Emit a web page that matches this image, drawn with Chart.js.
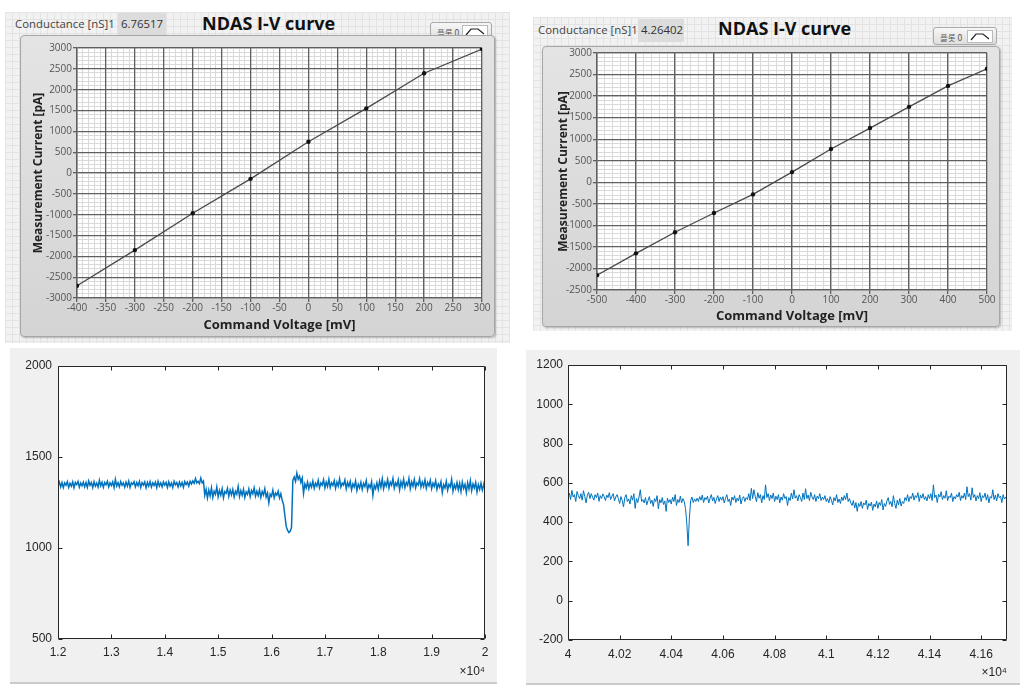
<!DOCTYPE html>
<html>
<head>
<meta charset="utf-8">
<script src="https://cdn.jsdelivr.net/npm/chart.js@4.4.1/dist/chart.umd.min.js"></script>
<style>
  body { margin: 0; width: 1033px; height: 688px; background: #fff; position: relative; overflow: hidden; font-family: "Open Sans", sans-serif; }
  .lv { position: absolute; background-color: #f2f2f2;
        background-image: linear-gradient(#e3e3e3 1px, transparent 1px), linear-gradient(90deg, #e3e3e3 1px, transparent 1px);
        background-size: 7px 7px; }
  .lv-inner { position: absolute; box-sizing: border-box; border: 1px solid #a6a6a6; border-radius: 4px;
              background: linear-gradient(#e4e4e4, #d4d4d4); box-shadow: 1px 1px 2px rgba(0,0,0,.25); }
  .lv-label { position: absolute; font-size: 11.4px; color: #444; white-space: nowrap; }
  .lv-value { position: absolute; box-sizing: border-box; font-size: 11.4px; color: #333; background: #dcdcdc; padding: 3px 3px; white-space: nowrap; }
  .lv-title { position: absolute; font-size: 18px; font-weight: bold; color: #111; white-space: nowrap; }
  .lv-legend { position: absolute; box-sizing: border-box; border: 1px solid #a9a9a9; border-radius: 3px;
               background: linear-gradient(#f7f7f7, #dedede); font-size: 8.5px; color: #555; }
  .lv-legend span { position: absolute; left: 6px; top: 3px; font-family: "Noto Sans CJK KR", sans-serif; }
  .lv-legend svg { position: absolute; right: 3px; top: 2px; background: #fff; border: 1px solid #bbb; }
  .ml { position: absolute; background: #f0f0f0; border-bottom: 2px solid #cbcbcb; }
  canvas { position: absolute; }
</style>
</head>
<body>

<!-- LabVIEW I-V panels -->
<div class="lv" style="left:5px; top:12px; width:505px; height:331px;"></div>
<div class="lv-label" style="left:15px; top:16px;">Conductance [nS]1</div>
<div class="lv-value" style="left:118px; top:13px; width:48px; height:22px;">6.76517</div>
<div class="lv-title" style="left:202px; top:11px;">NDAS I-V curve</div>
<div class="lv-legend" style="left:430px; top:22px; width:62px; height:18px;"><span>플롯 0</span>
  <svg width="24" height="11"><polyline points="3,9 8,3 15,3 21,8" fill="none" stroke="#222" stroke-width="1.2"/></svg></div>
<div class="lv-inner" style="left:20px; top:35px; width:475px; height:302px;"></div>
<canvas id="ivA" width="475" height="302" style="left:20px; top:35px;"></canvas>

<div class="lv" style="left:533px; top:17px; width:479px; height:314px;"></div>
<div class="lv-label" style="left:538px; top:22px;">Conductance [nS]1</div>
<div class="lv-value" style="left:638px; top:19px; width:46px; height:23px;">4.26402</div>
<div class="lv-title" style="left:718px; top:16px;">NDAS I-V curve</div>
<div class="lv-legend" style="left:933px; top:27px; width:64px; height:18px;"><span>플롯 0</span>
  <svg width="24" height="11"><polyline points="3,9 8,3 15,3 21,8" fill="none" stroke="#222" stroke-width="1.2"/></svg></div>
<div class="lv-inner" style="left:542px; top:46px; width:458px; height:281px;"></div>
<canvas id="ivB" width="458" height="281" style="left:542px; top:46px;"></canvas>

<!-- MATLAB trace panels -->
<div class="ml" style="left:10px; top:348px; width:487px; height:334px;"></div>
<canvas id="trA" width="487" height="334" style="left:10px; top:348px;"></canvas>
<div class="ml" style="left:526px; top:350px; width:494px; height:333px;"></div>
<canvas id="trB" width="494" height="333" style="left:526px; top:350px;"></canvas>

<script>
'use strict';

// I-V curve, left (Command Voltage [mV] vs Measurement Current [pA])
const ivVoltsA = [-400, -300, -200, -100, 0, 100, 200, 300];
const ivCurrentA = [-2705, -1850, -965, -140, 750, 1550, 2395, 2975];

// I-V curve, right
const ivVoltsB = [-500, -400, -300, -200, -100, 0, 100, 200, 300, 400, 500];
const ivCurrentB = [-2155, -1650, -1160, -713, -282, 236, 772, 1258, 1750, 2237, 2635];

// current trace, left: samples from x = 1.2 (x10^4), one every 0.0025
const traceAStart = 1.2, traceAStep = 0.0025;
const traceA = [
  1340,1362,1335,1360,1332,1358,1345,1365,1333,1356,1340,1363,1331,1360,1348,1366,1334,1357,1342,1362,
  1336,1360,1333,1368,1345,1359,1332,1364,1340,1357,1335,1372,1341,1361,1333,1360,1347,1366,1335,1358,
  1343,1363,1332,1378,1340,1359,1336,1365,1345,1358,1334,1362,1340,1367,1333,1358,1349,1364,1336,1360,
  1342,1366,1333,1359,1346,1363,1331,1360,1340,1365,1335,1358,1344,1362,1332,1366,1341,1358,1336,1363,
  1345,1360,1333,1364,1340,1357,1332,1366,1347,1359,1336,1363,1342,1360,1334,1365,1349,1362,1340,1366,
  1352,1368,1355,1382,1357,1366,1354,1385,1358,1368,
  1290,1322,1275,1318,1286,1330,1278,1312,1295,1335,1282,1316,1290,1325,1276,1310,1300,1328,1284,1318,
  1292,1322,1280,1312,1296,1338,1283,1315,1290,1322,1278,1308,1294,1324,1282,1316,1298,1330,1285,1312,
  1288,1320,1278,1310,1292,1326,1280,1302,1248,1296,1284,1318,1276,1302,1290,1312,1275,1298,
  1262,1240,1180,1120,1098,1085,1092,1112,
  1372,1390,1366,1412,1378,1395,1360,1385,
  1300,1352,1330,1362,1325,1355,1335,1368,1328,1356,1340,1372,1331,1358,1345,1375,
  1330,1362,1338,1378,1332,1358,1344,1370,1328,1362,1340,1380,1335,1356,1346,1374,1325,1360,1338,1366,
  1320,1352,1335,1368,1316,1350,1330,1362,1322,1355,1338,1370,1318,1348,1332,1364,1290,1345,1326,1358,
  1322,1368,1334,1380,1326,1360,1340,1376,1330,1362,1345,1382,1328,1358,1342,1374,1320,1364,1338,1378,
  1332,1360,1344,1382,1326,1364,1340,1376,1330,1358,1346,1380,1334,1362,1338,1374,1328,1360,1342,1372,
  1326,1356,1338,1370,1322,1352,1334,1364,1305,1348,1330,1366,1318,1350,1336,1378,1312,1348,1326,1360,
  1320,1355,1310,1362,1328,1350,1305,1358,1324,1370,1315,1352,1330,1360,1308,1348,1322,1356,1318,1345,1380
];

// current trace, right: samples from x = 4 (x10^4), one every 0.0005
const traceBStart = 4, traceBStep = 0.0005;
const traceB = [
  530,548,515,562,528,540,505,556,535,520,545,512,560,530,498,538,552,520,545,528,
  512,540,525,548,506,535,520,544,530,510,538,525,550,515,532,545,508,528,540,520,
  495,530,510,478,525,540,505,518,492,535,512,545,470,520,500,528,565,505,515,498,
  525,488,510,530,495,512,480,520,505,535,468,515,498,525,490,508,455,522,500,515,
  492,528,505,540,485,515,500,532,498,520,505,470,395,280,420,510,528,500,518,505,
  522,505,530,512,538,500,525,515,532,498,520,540,508,526,495,518,535,505,528,512,
  530,498,522,540,505,518,485,528,512,535,500,522,508,538,492,520,530,505,525,515,
  545,510,572,520,565,530,505,550,522,540,498,535,515,590,525,545,510,538,520,548,
  505,532,515,540,498,528,512,545,520,530,485,525,510,548,518,565,522,535,508,540,
  525,505,548,515,570,520,538,510,552,528,515,540,505,532,520,545,510,528,515,535,
  505,520,498,530,512,488,525,508,540,500,518,495,528,510,535,515,548,505,520,498,
  485,510,472,500,455,495,480,505,470,498,488,512,465,495,482,502,460,492,478,508,
  470,500,485,515,462,495,480,508,525,490,505,478,535,495,470,512,488,520,482,505,
  495,525,510,540,505,530,520,548,512,535,525,550,505,538,522,545,515,530,508,540,
  520,545,510,590,525,538,500,542,528,555,515,535,522,560,510,532,525,548,505,530,
  518,540,528,552,510,535,522,548,515,580,530,545,512,575,525,540,508,535,520,550,
  505,535,525,548,512,540,498,530,522,565,515,538,508,545,525,532,500,540,518,528,510
];

// white plot background
const plotBg = {
  id: 'plotBg',
  beforeDraw(chart) {
    const a = chart.chartArea, ctx = chart.ctx;
    ctx.save();
    ctx.fillStyle = '#ffffff';
    ctx.fillRect(a.left, a.top, a.width, a.height);
    ctx.restore();
  }
};

// MATLAB style box with inward tick marks on all four sides
const boxTicks = {
  id: 'boxTicks',
  afterDatasetsDraw(chart) {
    const {ctx, chartArea: a, scales} = chart;
    const L = Math.round(a.left) + 0.5, R = Math.round(a.right) - 0.5;
    const T = Math.round(a.top) + 0.5, B = Math.round(a.bottom) - 0.5;
    ctx.save();
    ctx.strokeStyle = '#262626';
    ctx.lineWidth = 1;
    ctx.beginPath();
    ctx.rect(L, T, R - L, B - T);
    scales.x.ticks.forEach(t => {
      const px = Math.round(scales.x.getPixelForValue(t.value)) + 0.5;
      ctx.moveTo(px, B); ctx.lineTo(px, B - 4);
      ctx.moveTo(px, T); ctx.lineTo(px, T + 4);
    });
    scales.y.ticks.forEach(t => {
      const py = Math.round(scales.y.getPixelForValue(t.value)) + 0.5;
      ctx.moveTo(L, py); ctx.lineTo(L + 4, py);
      ctx.moveTo(R, py); ctx.lineTo(R - 4, py);
    });
    ctx.stroke();
    ctx.restore();
  }
};

const lvFont = 'Open Sans';
const mlFont = 'Liberation Sans';
const plain = v => String(+v.toFixed(3));

function drawIV(id, volts, current, ax) {
  const minorGrid = (min, max, step, pos) => ({
    type: 'linear', position: pos, min: min, max: max,
    ticks: { display: false, stepSize: step, autoSkip: false },
    grid: { color: '#d9d9d9', lineWidth: 1, drawTicks: false, z: -2 },
    border: { display: false }
  });
  return new Chart(document.getElementById(id), {
    type: 'line',
    data: {
      datasets: [{
        data: volts.map((v, k) => ({ x: v, y: current[k] })),
        borderColor: '#4a4a4a',
        borderWidth: 1.3,
        pointRadius: 2.2,
        pointBackgroundColor: '#111',
        pointBorderWidth: 0,
        tension: 0
      }]
    },
    options: {
      responsive: false,
      animation: false,
      layout: { padding: { top: ax.padTop, right: ax.padRight, left: 0, bottom: 0 } },
      plugins: { legend: { display: false }, tooltip: { enabled: false } },
      scales: {
        xm: minorGrid(ax.xMin, ax.xMax, ax.xMinor, 'bottom'),
        ym: minorGrid(ax.yMin, ax.yMax, ax.yMinor, 'left'),
        x: {
          type: 'linear', position: 'bottom', min: ax.xMin, max: ax.xMax,
          afterFit: s => { s.height = ax.xAxisH; },
          ticks: { stepSize: ax.xStep, autoSkip: false, maxRotation: 0, padding: 0, color: '#555', font: { family: lvFont, size: 10 }, callback: plain },
          grid: { color: '#606060', lineWidth: 1.3, tickLength: 4 },
          border: { color: '#606060', width: 1.3 },
          title: { display: true, text: 'Command Voltage [mV]', color: '#222', font: { family: lvFont, size: 13, weight: 'bold' }, padding: { top: 0, bottom: ax.xTitlePad } }
        },
        y: {
          type: 'linear', position: 'left', min: ax.yMin, max: ax.yMax,
          afterFit: s => { s.width = ax.yAxisW; },
          ticks: { stepSize: ax.yStep, autoSkip: false, padding: 1, color: '#555', font: { family: lvFont, size: 10 }, callback: plain },
          grid: { color: '#606060', lineWidth: 1.3, tickLength: 4 },
          border: { color: '#606060', width: 1.3 },
          title: { display: true, text: 'Measurement Current [pA]', color: '#222', font: { family: lvFont, size: 12, weight: 'bold' }, padding: { top: ax.yTitlePad, bottom: 0 } }
        }
      }
    },
    plugins: [plotBg]
  });
}

function drawTrace(id, start, step, values, ax) {
  const tickFont = { family: mlFont, size: 12 };
  return new Chart(document.getElementById(id), {
    type: 'line',
    data: {
      datasets: [{
        data: values.map((v, k) => ({ x: start + k * step, y: v })),
        borderColor: '#0072BD',
        borderWidth: ax.lineW,
        pointRadius: 0,
        tension: 0
      }]
    },
    options: {
      responsive: false,
      animation: false,
      layout: { padding: { top: ax.padTop, right: ax.padRight, left: 0, bottom: 0 } },
      plugins: { legend: { display: false }, tooltip: { enabled: false } },
      scales: {
        x: {
          type: 'linear', min: ax.xMin, max: ax.xMax,
          afterFit: s => { s.height = ax.xAxisH; },
          ticks: { stepSize: ax.xStep, includeBounds: false, autoSkip: false, maxRotation: 0, padding: ax.xTickPad, color: '#262626', font: tickFont, callback: plain },
          grid: { display: false, drawTicks: false },
          border: { display: false },
          title: { display: true, text: '×10⁴', align: 'end', color: '#262626', font: { family: mlFont, size: 12 }, padding: { top: 0, bottom: 3 } }
        },
        y: {
          type: 'linear', min: ax.yMin, max: ax.yMax,
          afterFit: s => { s.width = ax.yAxisW; },
          ticks: { stepSize: ax.yStep, autoSkip: false, padding: ax.yTickPad, color: '#262626', font: tickFont, callback: plain },
          grid: { display: false, drawTicks: false },
          border: { display: false }
        }
      }
    },
    plugins: [plotBg, boxTicks]
  });
}

drawIV('ivA', ivVoltsA, ivCurrentA, {
  xMin: -400, xMax: 300, xStep: 50, xMinor: 10,
  yMin: -3000, yMax: 3000, yStep: 500, yMinor: 100,
  padTop: 13, padRight: 13, xAxisH: 39, yAxisW: 57, xTitlePad: 4, yTitlePad: 11
});

drawIV('ivB', ivVoltsB, ivCurrentB, {
  xMin: -500, xMax: 500, xStep: 100, xMinor: 20,
  yMin: -2500, yMax: 3000, yStep: 500, yMinor: 100,
  padTop: 6, padRight: 13, xAxisH: 37, yAxisW: 55, xTitlePad: 3, yTitlePad: 14
});

drawTrace('trA', traceAStart, traceAStep, traceA, {
  xMin: 1.2, xMax: 2, xStep: 0.1, yMin: 500, yMax: 2000, yStep: 500,
  padTop: 18, padRight: 12, xAxisH: 43, yAxisW: 48, xTickPad: 6, yTickPad: 6, lineW: 1.5
});

drawTrace('trB', traceBStart, traceBStep, traceB, {
  xMin: 4, xMax: 4.17, xStep: 0.02, yMin: -200, yMax: 1200, yStep: 200,
  padTop: 15, padRight: 13, xAxisH: 43, yAxisW: 42, xTickPad: 7, yTickPad: 5, lineW: 1
});
</script>
</body>
</html>
